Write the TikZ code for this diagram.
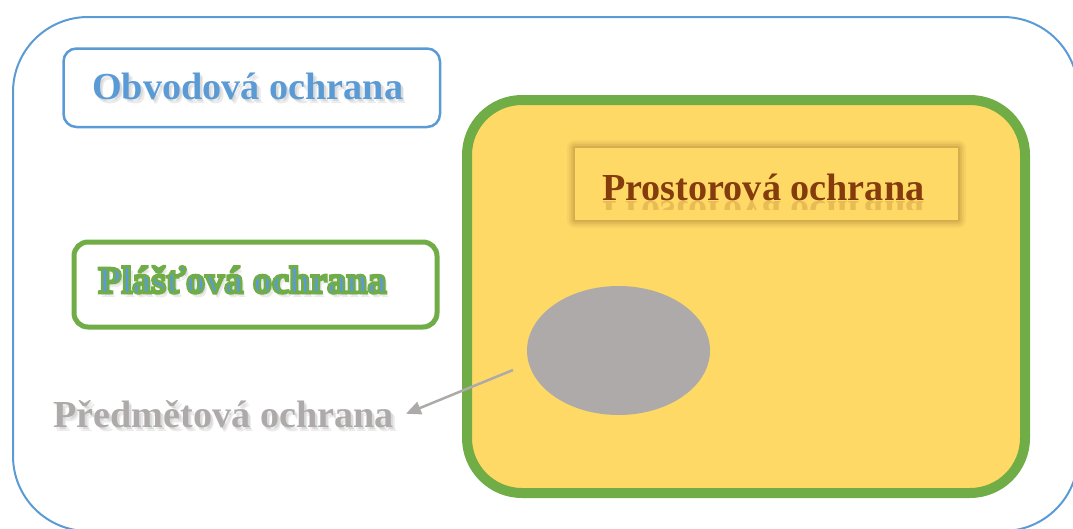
\documentclass[tikz,border=0pt]{standalone}
\usepackage{fontspec}
\setmainfont{Liberation Serif}
\usetikzlibrary{arrows.meta,shapes.geometric}
\definecolor{lineblue}{HTML}{5B9BD5}
\definecolor{leafgreen}{HTML}{70AD47}
\definecolor{roomyellow}{HTML}{FFD966}
\definecolor{objgray}{HTML}{AEAAAA}
\definecolor{rust}{HTML}{843C0C}
% glyphs filled in the current colour and stroked in green
\newcommand\greenoutline[1]{%
  \special{pdf:literal direct 0.439 0.678 0.278 RG 2 Tr 2.6 w}#1%
  \special{pdf:literal direct 0 Tr}}
\newcommand\softshadow[4]{%
  \foreach \dx/\dy [count=\i] in {2/2.5,3.5/4}
    {\node[tshadow] (#1\i) at ({#2+\dx},{#3+\dy}) {#4};}}
\begin{document}
\begin{tikzpicture}[x=1pt,y=-1pt,
  lbl/.style={font=\bfseries\fontsize{38.2}{40}\selectfont, inner sep=0pt, anchor=base west},
  tshadow/.style={lbl, text=black, opacity=0.08},
  frame/.style={rounded corners=#1, anchor=north west, inner sep=0pt},
  arr/.style={draw=objgray, line width=2.5pt, -{Triangle[length=15pt,width=13pt]}}]
\useasboundingbox (0,0) rectangle (1073,528);
\clip (0,0) rectangle (1073,528);

% perimeter
\node[frame=75pt, draw=lineblue, line width=2pt,
      minimum width=1065pt, minimum height=514pt] (perimeter) at (12,16) {};

% perimeter label box
\node[frame=13pt, draw=lineblue, line width=2.5pt,
      minimum width=376.5pt, minimum height=78.5pt] (obvbox) at (62.25,47.25) {};
\softshadow{obvsh}{92}{99}{Obvodová ochrana}
\node[lbl, text=lineblue] (obvtext) at (92,99) {Obvodová ochrana};

% envelope label box
\node[frame=14pt, draw=leafgreen, line width=5pt,
      minimum width=363pt, minimum height=85pt] (plabox) at (71.5,239.5) {};
\softshadow{plash}{98}{293}{Plášťová ochrana}
\node[lbl, text=lineblue] (platext) at (98,293) {\greenoutline{Plášťová ochrana}};

% space protection area
\node[frame=55pt, draw=leafgreen, fill=roomyellow, line width=10pt,
      minimum width=558pt, minimum height=393pt] (room) at (462,95) {};

% space label box with soft outline
\foreach \d/\o [count=\i] in {8/0.04,6/0.05,4/0.07,2/0.09}
  \fill[rust!60!black, opacity=\o, rounded corners=\d pt] (575-\d,148-\d) rectangle (958+\d,220+\d);
\node[frame=0pt, fill=roomyellow, minimum width=383pt, minimum height=72pt] (probox) at (575,148) {};
\node[lbl, text=rust] (protext) at (602,200) {Prostorová ochrana};
\begin{scope}
  \clip (595,201) rectangle (935,209);
  \begin{scope}[shift={(602,201)}, yscale=-1]
    \node[lbl, text=rust, opacity=0.18, transform shape] (proreflect) at (0,0) {Prostorová ochrana};
  \end{scope}
\end{scope}

% protected object
\node[ellipse, fill=objgray, minimum width=183pt, minimum height=129pt, inner sep=0pt] (obj) at (618.5,350.5) {};

% object label and pointer
\softshadow{predsh}{53}{427}{Předmětová ochrana}
\node[lbl, text=objgray] (predtext) at (53,427) {Předmětová ochrana};
\coordinate (ptrstart) at (513,370);
\draw[arr] (ptrstart) -- ([xshift=12pt]predtext.east);
\end{tikzpicture}
\end{document}
